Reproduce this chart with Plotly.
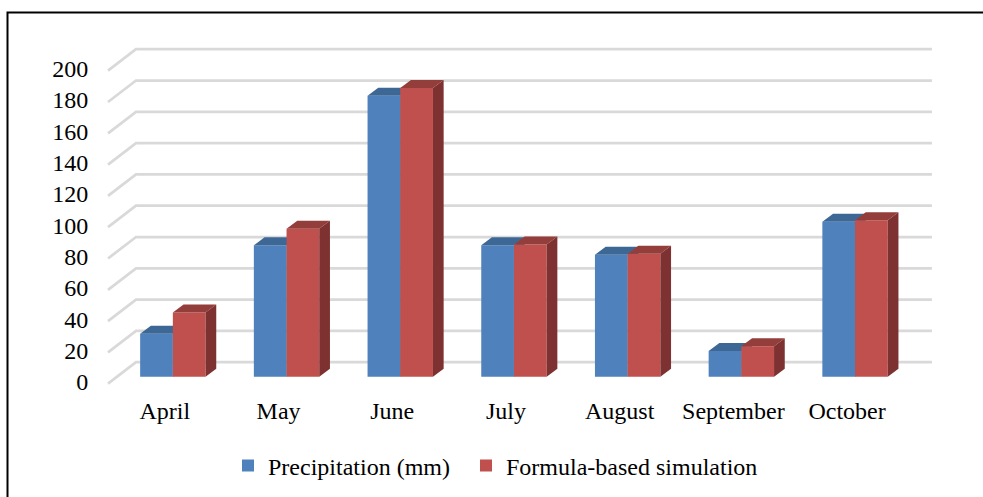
import plotly.graph_objects as go

categories = ["April", "May", "June", "July", "August", "September", "October"]
precipitation = [27.5, 84, 179.5, 84, 78, 16.5, 99]
simulation = [41, 94.5, 184.5, 84.5, 78.5, 19.5, 100]
y_ticks = [0, 20, 40, 60, 80, 100, 120, 140, 160, 180, 200]

W, H = 983, 497
L, R, T, B = 100, 51, 30, 108
PX_X = 113.7      # px per category
PX_Y = 1.565      # px per value unit
x0 = -0.5 - 8 / PX_X
x1 = x0 + (W - L - R) / PX_X
y0 = -(H - B - 383.7) / PX_Y
y1 = y0 + (H - T - B) / PX_Y

BAR_W = 32.7 / PX_X
BAR_SHIFT = 8 / PX_X
BAR_BASE = 7 / PX_Y
DX, DY = 10.7 / PX_X, 8 / PX_Y
WALL_DX, WALL_DY = 28 / PX_X, 21.5 / PX_Y
FLOOR_END = -0.5 + 7

FONT = "Liberation Serif"
idx = list(range(len(categories)))


def px(x):
    return (x - L) / (W - L - R)


def py(y):
    return 1 - (y - T) / (H - T - B)


def faces(values, offset, top_color, side_color, yaxis):
    out = []
    for i, v in zip(idx, values):
        a = i + offset
        b = a + BAR_W
        t = BAR_BASE + v
        out.append(go.Scatter(x=[a, b, b + DX, a + DX, a], y=[t, t, t + DY, t + DY, t], mode="lines",
                              line=dict(width=0), fill="toself", fillcolor=top_color,
                              showlegend=False, hoverinfo="skip", yaxis=yaxis))
        out.append(go.Scatter(x=[b, b + DX, b + DX, b, b],
                              y=[BAR_BASE, BAR_BASE + DY, t + DY, t, BAR_BASE], mode="lines",
                              line=dict(width=0), fill="toself", fillcolor=side_color,
                              showlegend=False, hoverinfo="skip", yaxis=yaxis))
    return out


fig = go.Figure()
fig.add_trace(go.Bar(x=idx, y=precipitation, base=BAR_BASE, width=BAR_W, offset=BAR_SHIFT - BAR_W,
                     marker=dict(color="#4f81bd", line=dict(width=0)), showlegend=False))
for t in faces(precipitation, BAR_SHIFT - BAR_W, "#3d6896", "#3d6896", "y"):
    fig.add_trace(t)
fig.add_trace(go.Bar(x=idx, y=simulation, base=BAR_BASE, width=BAR_W, offset=BAR_SHIFT, yaxis="y2",
                     marker=dict(color="#c0504d", line=dict(width=0)), showlegend=False))
for t in faces(simulation, BAR_SHIFT, "#943e3b", "#7d3130", "y2"):
    fig.add_trace(t)

fig.add_trace(go.Scatter(x=[None], y=[None], mode="markers", name="Precipitation (mm)",
                         marker=dict(symbol="square", size=12, color="#4f81bd"), legend="legend"))
fig.add_trace(go.Scatter(x=[None], y=[None], mode="markers", name="Formula-based simulation",
                         marker=dict(symbol="square", size=12, color="#c0504d"), legend="legend2"))

shapes = []
for v in y_ticks:
    shapes.append(dict(type="path", layer="below", xref="x", yref="y",
                       path=f"M {-0.5} {v} L {-0.5 + WALL_DX} {v + WALL_DY} L {FLOOR_END + WALL_DX} {v + WALL_DY}",
                       line=dict(color="#d9d9d9", width=2.75)))
shapes.append(dict(type="path", layer="above", xref="paper", yref="paper",
                   path=f"M {px(7.5)} {py(H)} L {px(7.5)} {py(12.5)} L {px(W)} {py(12.5)}",
                   line=dict(color="#000000", width=2)))

legend_font = dict(family=FONT, size=24, color="#000000")
fig.update_layout(
    width=W, height=H, autosize=False,
    margin=dict(l=L, r=R, t=T, b=B, pad=0, autoexpand=False),
    paper_bgcolor="white", plot_bgcolor="rgba(0,0,0,0)",
    barmode="overlay",
    font=dict(family=FONT, size=24, color="#000000"),
    shapes=shapes,
    xaxis=dict(range=[x0, x1], tickmode="array", tickvals=idx, ticktext=categories,
               showgrid=False, zeroline=False, showline=False, ticks="outside", ticklen=0,
               tickcolor="rgba(0,0,0,0)"),
    yaxis=dict(range=[y0, y1], tickmode="array", tickvals=y_ticks, showgrid=False, zeroline=False,
               showline=False, ticks="outside", ticklen=6, tickcolor="rgba(0,0,0,0)",
               ticklabelshift=-2),
    yaxis2=dict(range=[y0, y1], overlaying="y", side="left", visible=False),
    legend=dict(x=px(228), xanchor="left", y=py(466), yanchor="middle", font=legend_font,
                bgcolor="rgba(0,0,0,0)"),
    legend2=dict(x=px(466), xanchor="left", y=py(466), yanchor="middle", font=legend_font,
                 bgcolor="rgba(0,0,0,0)"),
)
fig.write_html("out.html", config={"displayModeBar": False},
               post_script="document.body.style.margin='0';document.body.style.overflow='hidden';")
